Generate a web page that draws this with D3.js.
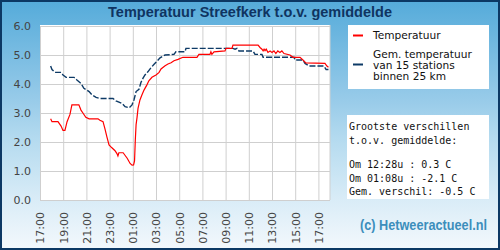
<!DOCTYPE html>
<html>
<head>
<meta charset="utf-8">
<script src="https://cdn.jsdelivr.net/npm/d3@7/dist/d3.min.js"></script>
<style>
  body { margin: 0; }
  svg { display: block; }
</style>
</head>
<body>
<div id="chart"></div>
<script>
// Temperatuur (rood), tijden vanaf 17:00
const tempTimes = ["17:55","18:02","18:33","18:49","18:59","19:09","19:20","19:35","19:45","20:21",
  "20:32","20:42","20:57","21:14","22:00","22:10","22:26","22:36","22:46","22:57",
  "23:12","23:28","23:38","23:43","23:48","00:10","00:31","00:46","00:56","01:04",
  "01:09","01:13","01:17","01:22","01:27","01:37","01:47","01:58","02:13","02:23",
  "02:39","03:00","03:16","03:26","03:47","04:02","04:18","04:33","04:54","05:19",
  "06:32","06:42","07:39","07:44","07:49","08:00","08:57","09:02","09:33","09:38",
  "11:48","11:58","12:08","12:14","12:19","12:24","12:30","12:39","12:50","13:00",
  "13:10","13:20","13:30","13:41","13:51","14:02","14:33","14:49","15:25","15:40",
  "15:55","17:34","17:44","17:52"];
const tempValues = [2.8,2.7,2.7,2.55,2.4,2.4,2.7,2.95,3.28,3.28,
  3.1,3.0,2.85,2.8,2.8,2.75,2.7,2.45,2.18,1.9,
  1.8,1.7,1.6,1.52,1.63,1.63,1.44,1.26,1.2,1.21,
  1.35,2.07,2.6,2.85,3.16,3.45,3.62,3.79,3.97,4.11,
  4.23,4.31,4.4,4.52,4.63,4.69,4.73,4.8,4.85,4.92,
  4.92,5.02,5.02,5.11,5.02,5.11,5.14,5.23,5.23,5.34,
  5.34,5.26,5.2,5.14,5.2,5.15,5.2,5.09,5.14,5.09,
  5.14,5.05,5.14,5.09,5.14,5.05,5.0,4.92,4.92,4.83,
  4.73,4.71,4.62,4.58];

// Gem. temperatuur van 15 stations (blauw)
const avgTimes = ["17:55","18:02","18:17","18:49","18:59","19:15","19:56","20:11","20:32","20:47",
  "21:14","21:30","21:50","22:10","23:18","23:33","00:05","00:20","00:41","00:56",
  "01:06","01:17","01:32","01:42","01:53","02:03","02:18","02:34","02:50","03:06",
  "03:21","03:47","04:33","04:43","05:30","05:35","09:38","09:49","09:59","10:09",
  "11:22","11:32","12:08","12:14","14:54","14:59","15:40","15:51","16:11","17:29",
  "17:40","17:52"];
const avgValues = [4.62,4.5,4.4,4.4,4.31,4.23,4.23,4.14,4.02,3.85,
  3.74,3.62,3.54,3.5,3.5,3.42,3.33,3.22,3.18,3.28,
  3.45,3.74,3.82,4.05,4.2,4.31,4.42,4.56,4.68,4.79,
  4.9,5.0,5.02,5.11,5.11,5.23,5.23,5.2,5.23,5.14,
  5.14,5.02,5.02,4.92,4.92,4.83,4.83,4.71,4.62,4.62,
  4.5,4.5];

const xTickLabels = ["17:00","19:00","21:00","23:00","01:00","03:00","05:00",
  "07:00","09:00","11:00","13:00","15:00","17:00"];
const yTicks = [0, 1, 2, 3, 4, 5, 6];

const legendLabels = [["Temperatuur"], ["Gem. temperatuur", "van 15 stations", "binnen 25 km"]];
const infoLines = ["Grootste verschillen", "t.o.v. gemiddelde:", "",
  "Om 12:28u : 0.3 C", "Om 01:08u : -2.1 C", "Gem. verschil: -0.5 C"];

// tijden -> uren sinds 17:00, met dagovergang
function toHours(times) {
  let day = 0, prev = -1;
  return times.map(t => {
    const [hh, mm] = t.split(":").map(Number);
    let h = hh + mm / 60 - 17;
    if (h < 0) h += 24;
    h += day;
    if (h < prev) { day += 24; h += 24; }
    prev = h;
    return h;
  });
}

const tempData = toHours(tempTimes).map((h, i) => ({ h, v: tempValues[i] }));
const avgData = toHours(avgTimes).map((h, i) => ({ h, v: avgValues[i] }));

const W = 500, H = 250;
const plot = { left: 40, right: 330, top: 26, bottom: 200 };

const svg = d3.select("#chart").append("svg")
  .attr("width", W).attr("height", H);

// achtergrond
const grad = svg.append("defs").append("linearGradient")
  .attr("id", "bg").attr("x1", 0).attr("y1", 0).attr("x2", 0).attr("y2", 1);
[[0, "#55abda"], [0.4, "#98cbe9"], [0.55, "#b3daef"], [0.8, "#d9ecf7"], [1, "#f3f8fc"]]
  .forEach(([o, c]) => grad.append("stop").attr("offset", o).attr("stop-color", c));

svg.append("rect")
  .attr("x", 1).attr("y", 1).attr("width", W - 2).attr("height", H - 2)
  .attr("fill", "url(#bg)")
  .attr("stroke", "#0c3864").attr("stroke-width", 2);

// titel
svg.append("text")
  .attr("x", 250).attr("y", 16.5)
  .attr("text-anchor", "middle")
  .style("font-family", "'Liberation Sans', Arial, sans-serif")
  .style("font-weight", "bold").style("font-size", "14.5px")
  .attr("fill", "#0f3461")
  .text("Temperatuur Streefkerk t.o.v. gemiddelde");

// schalen
const x = d3.scaleLinear().domain([0, 25]).range([plot.left, plot.right]);
const y = d3.scaleLinear().domain([0, 6]).range([plot.bottom, plot.top]);

svg.append("rect")
  .attr("x", plot.left).attr("y", plot.top - 1)
  .attr("width", plot.right - plot.left).attr("height", plot.bottom - plot.top + 1)
  .attr("fill", "#fff");

const g = svg.append("g");

// grid
g.append("g")
  .attr("transform", `translate(0,${plot.bottom})`)
  .call(d3.axisBottom(x).tickValues(d3.range(0, 25, 2)).tickSize(-(plot.bottom - plot.top)).tickFormat(""))
  .call(a => a.select(".domain").remove());

g.append("g")
  .attr("transform", `translate(${plot.left},0)`)
  .call(d3.axisLeft(y).tickValues(yTicks).tickSize(-(plot.right - plot.left)).tickFormat(""))
  .call(a => a.select(".domain").remove());

g.selectAll(".tick line").attr("stroke", "#cfcfcf").attr("stroke-width", 1);

// rand rechts
g.append("line").attr("x1", plot.right).attr("x2", plot.right)
  .attr("y1", plot.top - 1).attr("y2", plot.bottom).attr("stroke", "#cfcfcf");

// y-as labels
const labelFont = "'DejaVu Sans', Verdana, sans-serif";
const gy = svg.append("g")
  .attr("transform", `translate(${plot.left},0)`)
  .call(d3.axisLeft(y).tickValues(yTicks).tickSize(0).tickPadding(9).tickFormat(d3.format(".1f")));
gy.select(".domain").remove();
gy.selectAll("text").attr("fill", "#444").style("font-family", labelFont).style("font-size", "11px");

// x-as labels (gedraaid)
const gx = svg.append("g")
  .attr("transform", `translate(0,${plot.bottom})`)
  .call(d3.axisBottom(x).tickValues(d3.range(0, 25, 2)).tickSize(0)
    .tickFormat((d, i) => xTickLabels[i]));
gx.select(".domain").remove();
gx.selectAll("text")
  .attr("fill", "#444").style("font-family", labelFont).style("font-size", "11px")
  .attr("text-anchor", "end")
  .attr("transform", "rotate(-90)")
  .attr("x", -12).attr("y", 0).attr("dy", "0.35em");

// lijnen
const line = d3.line().x(d => x(d.h)).y(d => y(d.v));

g.append("path").datum(avgData)
  .attr("d", line)
  .attr("fill", "none").attr("stroke", "#0d3a66")
  .attr("stroke-width", 1.4).attr("stroke-dasharray", "6,2");

g.append("path").datum(tempData)
  .attr("d", line)
  .attr("fill", "none").attr("stroke", "#ff0000")
  .attr("stroke-width", 1.2);

// legenda
const leg = svg.append("g");
leg.append("rect").attr("x", 348).attr("y", 25).attr("width", 141).attr("height", 64).attr("fill", "#fff");
const legColors = ["#ff0000", "#0d3a66"];
const legY = [39, 57.5];
legendLabels.forEach((lines, i) => {
  const sy = i === 0 ? 35.5 : 64.5;
  leg.append("line").attr("x1", 353).attr("x2", 363).attr("y1", sy).attr("y2", sy)
    .attr("stroke", legColors[i]).attr("stroke-width", 2);
  lines.forEach((t, j) => {
    leg.append("text").attr("x", 373).attr("y", legY[i] + j * 11)
      .style("font-family", labelFont).style("font-size", "10.6px").attr("fill", "#111")
      .text(t);
  });
});

// info blok
const info = svg.append("g");
info.append("rect").attr("x", 347).attr("y", 115).attr("width", 142).attr("height", 84).attr("fill", "#fff");
const infoY = [130, 143.5, 157, 168, 181.5, 195];
infoLines.forEach((t, i) => {
  if (!t) return;
  info.append("text").attr("x", 349).attr("y", infoY[i])
    .style("font-family", "'DejaVu Sans Mono', monospace").style("font-size", "10px")
    .attr("fill", "#111").attr("xml:space", "preserve")
    .text(t);
});

// copyright
svg.append("text")
  .attr("x", 360).attr("y", 230)
  .attr("textLength", 127).attr("lengthAdjust", "spacingAndGlyphs")
  .style("font-family", "'Liberation Sans', Arial, sans-serif")
  .style("font-weight", "bold").style("font-size", "14px")
  .attr("fill", "#3c8ebc")
  .text("(c) Hetweeractueel.nl");
</script>
</body>
</html>
